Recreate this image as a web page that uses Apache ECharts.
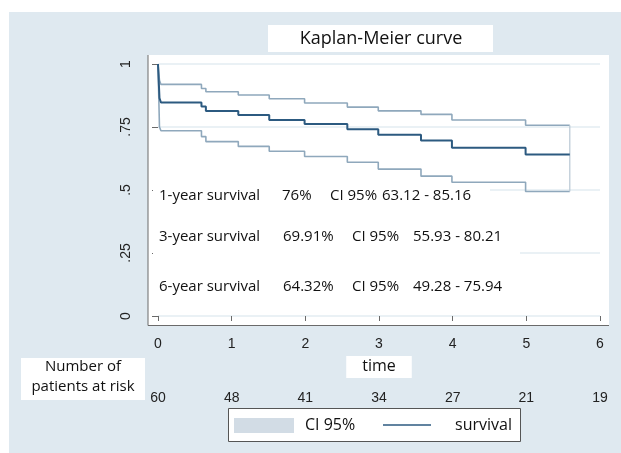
<!DOCTYPE html>
<html>
<head>
<meta charset="utf-8">
<script src="https://cdn.jsdelivr.net/npm/echarts@6/dist/echarts.min.js"></script>
<style>html,body{margin:0;padding:0;background:#fff;}#c{width:621px;height:453px;}</style>
</head>
<body>
<div id="c"></div>
<script>
// ---- data ----
const times    = [0, 0.02, 0.04, 0.59, 0.65, 1.09, 1.51, 1.99, 2.57, 2.99, 3.57, 3.99, 4.99, 5.59];
const survival = [1, 0.865, 0.847, 0.831, 0.813, 0.798, 0.778, 0.762, 0.741, 0.719, 0.696, 0.668, 0.641, 0.641];
const ciUpper  = [1, 0.935, 0.919, 0.903, 0.890, 0.877, 0.862, 0.845, 0.829, 0.814, 0.800, 0.778, 0.757, 0.757];
const ciLower  = [1, 0.750, 0.735, 0.712, 0.692, 0.673, 0.654, 0.633, 0.610, 0.583, 0.555, 0.531, 0.494, 0.494];
const yTickLabels = ['0', '.25', '.5', '.75', '1'];
const xTickLabels = ['0', '1', '2', '3', '4', '5', '6'];
const atRisk = [60, 48, 41, 34, 27, 21, 19];
const annotations = [
  ['1-year survival', '76%', 'CI 95%', '63.12 - 85.16'],
  ['3-year survival', '69.91%', 'CI 95%', '55.93 - 80.21'],
  ['6-year survival', '64.32%', 'CI 95%', '49.28 - 75.94']
];

const HF = '"Open Sans", "Noto Sans", sans-serif';
const AF = '"Liberation Sans", Arial, sans-serif';
const DARK = '#2c5a80', LIGHT = '#8fa8bc';

const pair = (a, b) => a.map((t, i) => [t, b[i]]);
const last = times.length - 1;

const chart = echarts.init(document.getElementById('c'), null, {renderer: 'canvas'});

const annoCols = [[159, 282, 330, 382], [159, 283, 352, 413], [159, 283, 352, 413]];
const annoY = [196, 237, 287];
const annoBoxes = [[153, 180, 337, 33], [153, 221, 367, 34], [153, 271, 367, 33]];

const graphics = [
  {type: 'rect', z: -10, shape: {x: 9, y: 12, width: 612, height: 441}, style: {fill: '#dfe9f0'}},
  {type: 'rect', z: -9, shape: {x: 148, y: 55, width: 461, height: 270}, style: {fill: '#ffffff'}},
  {type: 'rect', z: -9, shape: {x: 268, y: 25, width: 225, height: 27}, style: {fill: '#ffffff'}},
  {type: 'text', z: 5, x: 381, y: 39, style: {text: 'Kaplan-Meier curve', font: '18px ' + HF, fill: '#111', align: 'center', verticalAlign: 'middle'}},
  {type: 'line', z: 5, shape: {x1: 148, y1: 55, x2: 148, y2: 325.5}, style: {stroke: '#6a6a6a', lineWidth: 1}},
  {type: 'line', z: 5, shape: {x1: 148, y1: 325.5, x2: 609, y2: 325.5}, style: {stroke: '#6a6a6a', lineWidth: 1}},
  // number at risk label
  {type: 'rect', z: 1, shape: {x: 21, y: 358, width: 124, height: 42}, style: {fill: '#ffffff'}},
  {type: 'text', z: 5, x: 83, y: 367, style: {text: 'Number of', font: '15px ' + HF, fill: '#111', align: 'center', verticalAlign: 'middle'}},
  {type: 'text', z: 5, x: 83, y: 387, style: {text: 'patients at risk', font: '15px ' + HF, fill: '#111', align: 'center', verticalAlign: 'middle'}},
  // legend
  {type: 'rect', z: 1, shape: {x: 228.5, y: 408.5, width: 292, height: 33}, style: {fill: '#ffffff', stroke: '#555', lineWidth: 1}},
  {type: 'rect', z: 2, shape: {x: 234, y: 418, width: 60, height: 15}, style: {fill: '#d2dce5'}},
  {type: 'text', z: 5, x: 305, y: 425, style: {text: 'CI 95%', font: '16px ' + HF, fill: '#111', verticalAlign: 'middle'}},
  {type: 'line', z: 5, shape: {x1: 383, y1: 425, x2: 431, y2: 425}, style: {stroke: DARK, lineWidth: 1.5}},
  {type: 'text', z: 5, x: 455, y: 425, style: {text: 'survival', font: '16px ' + HF, fill: '#111', verticalAlign: 'middle'}}
];
annotations.forEach((row, r) => {
  const b = annoBoxes[r];
  graphics.push({type: 'rect', z: 1, shape: {x: b[0], y: b[1], width: b[2], height: b[3]}, style: {fill: '#ffffff'}});
  row.forEach((txt, c) => {
    graphics.push({type: 'text', z: 5, x: annoCols[r][c], y: annoY[r],
      style: {text: txt, font: '15px ' + HF, fill: '#111', verticalAlign: 'middle'}});
  });
});

const option = {
  animation: false,
  grid: {left: 158, right: 21, top: 64, bottom: 137, containLabel: false},
  xAxis: [
    {
      type: 'value', min: 0, max: 6, interval: 1, offset: 9,
      axisLine: {show: false},
      axisTick: {show: true, length: 5, lineStyle: {color: '#6a6a6a'}},
      axisLabel: {margin: 12, color: '#222', fontFamily: AF, fontSize: 14,
        formatter: v => xTickLabels[Math.round(v)]},
      splitLine: {show: false},
      name: 'time', nameLocation: 'middle', nameGap: 29,
      nameTextStyle: {fontFamily: HF, fontSize: 16, color: '#111', backgroundColor: '#ffffff', padding: [3, 16, 3, 16]}
    },
    {
      type: 'value', min: 0, max: 6, interval: 1, position: 'bottom', offset: 63,
      axisLine: {show: false}, axisTick: {show: false}, splitLine: {show: false},
      axisLabel: {margin: 12, color: '#222', fontFamily: AF, fontSize: 14,
        formatter: v => String(atRisk[Math.round(v)])}
    }
  ],
  yAxis: {
    type: 'value', min: 0, max: 1, interval: 0.25, offset: 10,
    axisLine: {show: false},
    axisTick: {show: true, length: 6, lineStyle: {color: '#6a6a6a'}},
    axisLabel: {rotate: 90, margin: 15, color: '#222', fontFamily: AF, fontSize: 14,
      formatter: v => yTickLabels[Math.round(v * 4)]},
    splitLine: {show: true, lineStyle: {color: '#e3ecf2', width: 1.5}}
  },
  graphic: graphics,
  series: [
    {name: 'CI upper', type: 'line', step: 'end', symbol: 'none', z: 3,
      data: pair(times, ciUpper), lineStyle: {color: LIGHT, width: 1.6}},
    {name: 'CI lower', type: 'line', step: 'end', symbol: 'none', z: 3,
      data: pair(times, ciLower), lineStyle: {color: LIGHT, width: 1.6}},
    {name: 'CI close', type: 'line', symbol: 'none', z: 3,
      data: [[times[last], ciUpper[last]], [times[last], ciLower[last]]], lineStyle: {color: '#b9c8d4', width: 1.2}},
    {name: 'survival', type: 'line', step: 'end', symbol: 'none', z: 4,
      data: pair(times, survival), lineStyle: {color: DARK, width: 2}}
  ]
};
chart.setOption(option);
</script>
</body>
</html>
